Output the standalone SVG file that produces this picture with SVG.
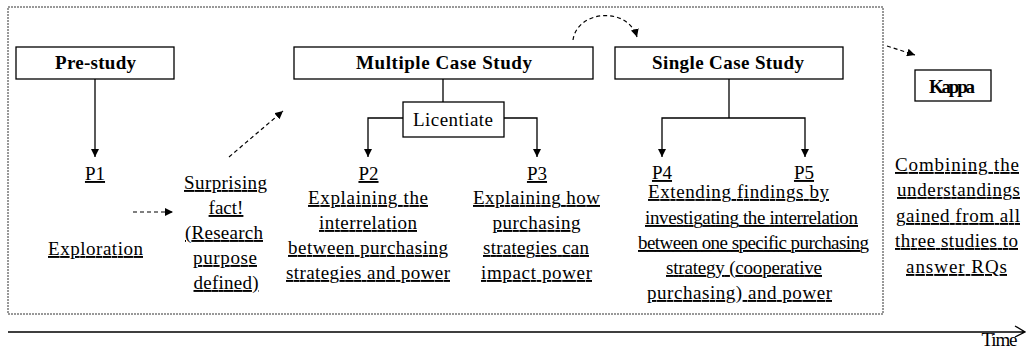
<svg xmlns="http://www.w3.org/2000/svg" width="1032" height="349" viewBox="0 0 1032 349" font-family="'Liberation Serif', 'DejaVu Serif', serif">
<style>
text{fill:#000}
.t{font-size:19px;text-anchor:middle;text-decoration:underline}
.b{font-size:19px;font-weight:bold;text-anchor:middle}
.r{font-size:19px;text-anchor:middle}
.box{fill:#fff;stroke:#000;stroke-width:1.3}
.ln{fill:none;stroke:#000;stroke-width:1.3}
.dash{fill:none;stroke:#000;stroke-width:1.2;stroke-dasharray:4 3}
</style>
<defs>
<marker id="ah" viewBox="0 0 10 10" refX="10" refY="5" markerWidth="8" markerHeight="8" markerUnits="userSpaceOnUse" orient="auto">
<path d="M0,0 L10,5 L0,10 z" fill="#000"/>
</marker>
</defs>
<rect x="8" y="7" width="875" height="307" fill="none" stroke="#333" stroke-width="1" stroke-dasharray="2 1"/>
<g id="connectors">
<path class="ln" d="M95,79 V157" marker-end="url(#ah)"/>
<path class="ln" d="M443,79 V102"/>
<path class="ln" d="M403,118 H368 V157" marker-end="url(#ah)"/>
<path class="ln" d="M504,118 H537 V157" marker-end="url(#ah)"/>
<path class="ln" d="M729,79 V118"/>
<path class="ln" d="M729,118 H662 V157" marker-end="url(#ah)"/>
<path class="ln" d="M729,118 H805 V157" marker-end="url(#ah)"/>
<path class="dash" d="M133,212 H173" marker-end="url(#ah)"/>
<path class="dash" d="M229,157 L283,111" marker-end="url(#ah)"/>
<path class="dash" d="M573,40 C577,10 628,6 637,37" marker-end="url(#ah)"/>
<path class="dash" d="M887,46 L915,55" marker-end="url(#ah)"/>
<path class="ln" d="M8,332 H1024 M1015,326 L1025,332 L1015,337"/>
</g>
<g id="prestudy">
<rect class="box" x="16" y="47" width="158" height="32"/>
<text class="b" x="95.5" y="69" textLength="81">Pre-study</text>
</g>
<g id="multiple">
<rect class="box" x="294" y="47" width="299" height="32"/>
<text class="b" x="444" y="69" textLength="176">Multiple Case Study</text>
</g>
<g id="licentiate">
<rect class="box" x="403" y="102" width="101" height="35"/>
<text class="r" x="453" y="126" textLength="80">Licentiate</text>
</g>
<g id="single">
<rect class="box" x="615" y="47" width="228" height="32"/>
<text class="b" x="728" y="69" textLength="152">Single Case Study</text>
</g>
<g id="kappa">
<rect class="box" x="915" y="70" width="76" height="31"/>
<text class="b" x="952" y="93" textLength="46">Kappa</text>
</g>
<g id="p1">
<text class="t" x="95" y="180">P1</text>
<text class="t" x="95.5" y="255" textLength="95">Exploration</text>
</g>
<g id="surprising">
<text class="t" x="225.5" y="189" textLength="83">Surprising</text>
<text class="t" x="226" y="214">fact!</text>
<text class="t" x="224" y="239" textLength="78">(Research</text>
<text class="t" x="225" y="264" textLength="64">purpose</text>
<text class="t" x="226" y="289" textLength="65">defined)</text>
</g>
<g id="p2">
<text class="t" x="368.5" y="180">P2</text>
<text class="t" x="368" y="204" textLength="120">Explaining the</text>
<text class="t" x="368" y="229" textLength="98">interrelation</text>
<text class="t" x="368" y="254" textLength="160">between purchasing</text>
<text class="t" x="368" y="279" textLength="164">strategies and power</text>
</g>
<g id="p3">
<text class="t" x="537" y="180">P3</text>
<text class="t" x="536.5" y="204" textLength="127">Explaining how</text>
<text class="t" x="536.5" y="229" textLength="88">purchasing</text>
<text class="t" x="536" y="254" textLength="106">strategies can</text>
<text class="t" x="536.5" y="279" textLength="111">impact power</text>
</g>
<g id="p4p5">
<text class="t" x="662" y="179">P4</text>
<text class="t" x="804" y="179">P5</text>
<text class="t" x="738.5" y="198" textLength="181">Extending findings by</text>
<text class="t" x="751.5" y="224" textLength="213">investigating the interrelation</text>
<text class="t" x="753.5" y="249" textLength="231">between one specific purchasing</text>
<text class="t" x="744" y="274" textLength="156">strategy (cooperative</text>
<text class="t" x="739.5" y="299" textLength="185">purchasing) and power</text>
</g>
<g id="kappatext">
<text class="t" x="957" y="171" textLength="124">Combining the</text>
<text class="t" x="958.5" y="196" textLength="123">understandings</text>
<text class="t" x="958" y="222" textLength="124">gained from all</text>
<text class="t" x="956.5" y="247" textLength="123">three studies to</text>
<text class="t" x="956.5" y="273" textLength="101">answer RQs</text>
</g>
<g id="time">
<text class="r" x="999.5" y="346" textLength="36">Time</text>
</g>
</svg>
